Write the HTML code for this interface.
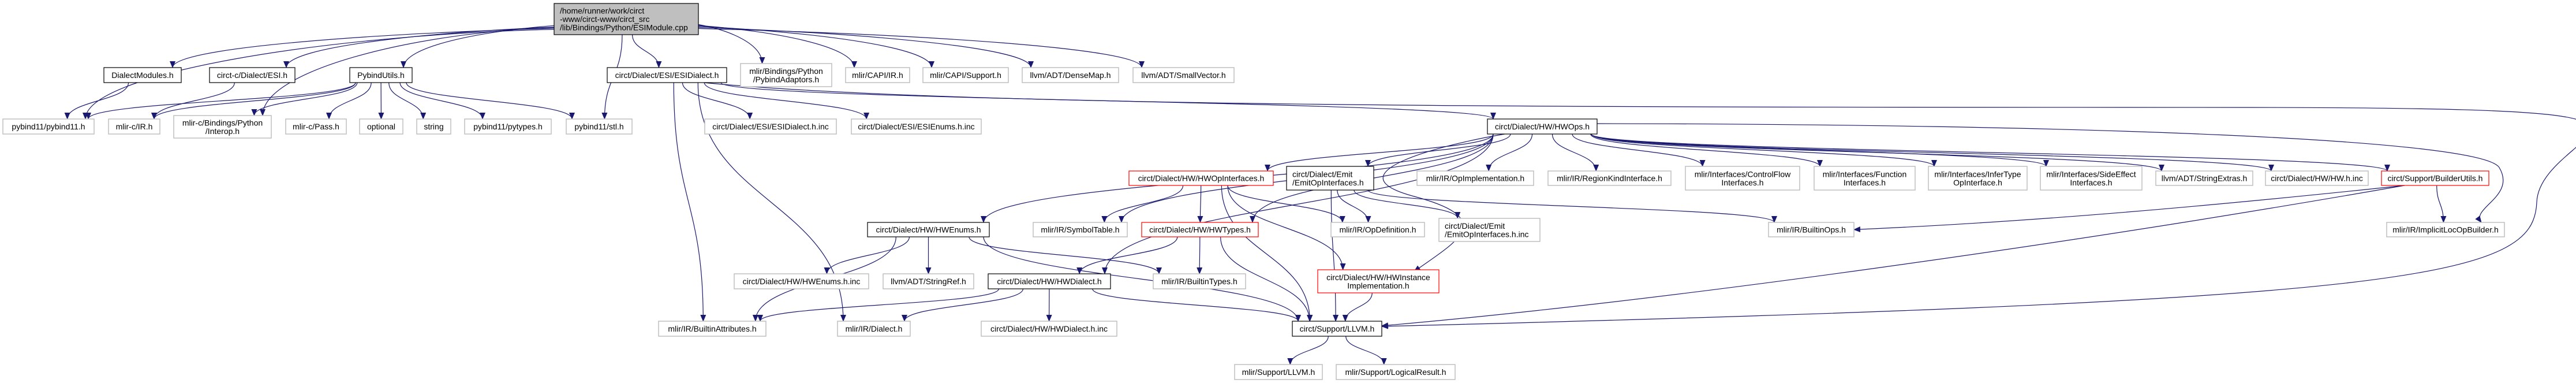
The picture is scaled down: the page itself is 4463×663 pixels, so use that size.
<!DOCTYPE html>
<html><head><meta charset="utf-8"><title>ESIModule.cpp include graph</title>
<style>
html,body{margin:0;padding:0;background:#fff;}
svg{display:block;}
text{font-family:"Liberation Sans","DejaVu Sans",sans-serif;font-size:14px;fill:#000;}
</style></head>
<body>
<svg id="g" width="4463" height="663" viewBox="0 0 4463 663" xmlns="http://www.w3.org/2000/svg">
<defs>
<marker id="ah" markerWidth="12" markerHeight="10" refX="11" refY="5" orient="auto" markerUnits="userSpaceOnUse">
<path d="M0,0 L12,5 L0,10 z" fill="#191970"/>
</marker>
</defs>
<g id="edges"></g>
<g id="nodes"></g>
</svg>
<script>
const nodeIds = ["main","dialmod","cesi","pyutils","esid","pyadapt","capiir","capisup","densemap","smallvec",
"pybind11","mlircir","interop","pass","optional","string","pytypes","stl","esidinc","esienuminc","hwops",
"hwopif","emitopif","opimpl","regionkind","ctrlflow","funcif","infertype","sideeffect","strextras","hwinc","builderutils",
"hwenums","symtab","hwtypes","opdef","emitinc","builtinops","implicitloc",
"hwenumsinc","stringref","hwdialect","builtintypes","hwinst",
"builtinattrs","dialect","hwdialectinc","llvm",
"mlirllvm","logicalresult"];
const nodeLabels = [
["/home/runner/work/circt","-www/circt-www/circt_src","/lib/Bindings/Python/ESIModule.cpp"],
["DialectModules.h"],["circt-c/Dialect/ESI.h"],["PybindUtils.h"],["circt/Dialect/ESI/ESIDialect.h"],
["mlir/Bindings/Python","/PybindAdaptors.h"],["mlir/CAPI/IR.h"],["mlir/CAPI/Support.h"],["llvm/ADT/DenseMap.h"],["llvm/ADT/SmallVector.h"],
["pybind11/pybind11.h"],["mlir-c/IR.h"],["mlir-c/Bindings/Python","/Interop.h"],["mlir-c/Pass.h"],["optional"],["string"],["pybind11/pytypes.h"],["pybind11/stl.h"],
["circt/Dialect/ESI/ESIDialect.h.inc"],["circt/Dialect/ESI/ESIEnums.h.inc"],["circt/Dialect/HW/HWOps.h"],
["circt/Dialect/HW/HWOpInterfaces.h"],["circt/Dialect/Emit","/EmitOpInterfaces.h"],["mlir/IR/OpImplementation.h"],["mlir/IR/RegionKindInterface.h"],
["mlir/Interfaces/ControlFlow","Interfaces.h"],["mlir/Interfaces/Function","Interfaces.h"],["mlir/Interfaces/InferType","OpInterface.h"],
["mlir/Interfaces/SideEffect","Interfaces.h"],["llvm/ADT/StringExtras.h"],["circt/Dialect/HW/HW.h.inc"],["circt/Support/BuilderUtils.h"],
["circt/Dialect/HW/HWEnums.h"],["mlir/IR/SymbolTable.h"],["circt/Dialect/HW/HWTypes.h"],["mlir/IR/OpDefinition.h"],
["circt/Dialect/Emit","/EmitOpInterfaces.h.inc"],["mlir/IR/BuiltinOps.h"],["mlir/IR/ImplicitLocOpBuilder.h"],
["circt/Dialect/HW/HWEnums.h.inc"],["llvm/ADT/StringRef.h"],["circt/Dialect/HW/HWDialect.h"],["mlir/IR/BuiltinTypes.h"],
["circt/Dialect/HW/HWInstance","Implementation.h"],
["mlir/IR/BuiltinAttributes.h"],["mlir/IR/Dialect.h"],["circt/Dialect/HW/HWDialect.h.inc"],["circt/Support/LLVM.h"],
["mlir/Support/LLVM.h"],["mlir/Support/LogicalResult.h"]
];
const nodeBoxes = [
[960,6,1210,60],
[180,117,314,143],[363,117,511,143],[606,117,714,143],[1052,117,1259,143],
[1283,110,1441,150],[1465,117,1576,143],[1599,117,1747,143],[1771,117,1938,143],[1963,117,2138,143],
[5,206,163,232],[188,206,277,232],[301,200,470,239],[495,206,600,232],[623,206,698,232],[722,206,781,232],[805,206,955,232],[981,206,1095,232],
[1221,206,1449,232],[1475,206,1700,232],[2577,206,2767,232],
[1956,296,2206,321],[2229,288,2380,329],[2455,296,2657,321],[2682,296,2895,321],
[2920,288,3118,329],[3143,288,3318,329],[3341,288,3512,329],[3535,288,3711,329],[3735,296,3903,321],[3925,296,4103,321],[4126,296,4312,321],
[1503,385,1714,410],[1790,385,1953,410],[1978,385,2180,410],[2306,385,2468,410],[2493,378,2668,418],[3064,385,3212,410],[4135,385,4339,410],
[1272,474,1505,500],[1530,474,1687,500],[1712,474,1924,500],[1998,474,2158,500],[2283,467,2493,507],
[1141,556,1327,582],[1451,556,1577,582],[1700,556,1935,582],[2239,556,2394,582],
[2139,631,2291,657],[2315,631,2521,657]
];
const nodeStyles = ["main","black","black","black","black","gray","gray","gray","gray","gray",
"gray","gray","gray","gray","gray","gray","gray","gray","gray","gray","black",
"red","black","gray","gray","gray","gray","gray","gray","gray","gray","red",
"black","gray","red","gray","gray","gray","gray",
"gray","gray","black","gray","red",
"gray","gray","gray","black","gray","gray"];
const leftAligned = ["main","emitopif","emitinc"];

const edgeFrom = ["main","main","main","main","main","main","main","main","main","main","main","main",
"dialmod","cesi",
"pyutils","pyutils","pyutils","pyutils","pyutils","pyutils","pyutils","pyutils",
"esid","esid","esid","esid","esid","esid",
"hwops","hwops","hwops","hwops","hwops","hwops","hwops","hwops","hwops","hwops","hwops","hwops","hwops","hwops","hwops","hwops","hwops",
"hwenums","hwenums","hwenums","hwenums","hwenums",
"hwopif","hwopif","hwopif","hwopif","hwopif",
"hwtypes","hwtypes","hwtypes",
"hwdialect","hwdialect","hwdialect","hwdialect",
"emitopif","emitopif","emitopif","emitopif",
"hwinst","llvm","llvm",
"builderutils","builderutils","builderutils"];
const edgeTo = ["pybind11","dialmod","cesi","interop","pyutils","stl","esid","pyadapt","capiir","capisup","densemap","smallvec",
"pybind11","mlircir",
"pybind11","mlircir","interop","pass","optional","string","pytypes","stl",
"esidinc","esienuminc","hwops","builtinattrs","dialect","llvm",
"hwenums","symtab","hwopif","hwtypes","hwdialect","emitopif","llvm","opimpl","regionkind","ctrlflow","funcif","infertype","sideeffect","strextras","hwinc","builderutils","implicitloc",
"builtinattrs","hwenumsinc","stringref","builtintypes","llvm",
"symtab","hwtypes","opdef","hwinst","llvm",
"hwdialect","builtintypes","llvm",
"builtinattrs","dialect","hwdialectinc","llvm",
"opdef","emitinc","builtinops","llvm",
"llvm","mlirllvm","logicalresult",
"builtinops","llvm","implicitloc"];

const NS = "http://www.w3.org/2000/svg";
const gE = document.getElementById("edges");
const gN = document.getElementById("nodes");
function box(id){ return nodeBoxes[nodeIds.indexOf(id)]; }

for (let i = 0; i < edgeFrom.length; i++) {
  const a = box(edgeFrom[i]), b = box(edgeTo[i]);
  let d;
  const acx = (a[0]+a[2])/2, bcx = (b[0]+b[2])/2;
  const f = edgeFrom[i], t = edgeTo[i];
  if (f === "esid" && t === "llvm") {
    d = `M${a[2]-40},${a[3]} C1700,190 3000,185 3900,186 S4400,220 4395,350 S4200,520 2394,565`;
  } else if (f === "builderutils" && t === "builtinops") {
    d = `M${a[0]+40},${a[3]} C3800,360 3500,385 ${b[2]},${(b[1]+b[3])/2}`;
  } else if (f === "builderutils" && t === "llvm") {
    d = `M${a[0]+40},${a[3]} C3600,420 2900,520 ${b[2]},${b[1]+8}`;
  } else if (f === "hwops" && t === "implicitloc") {
    d = `M${a[2]},${a[1]+8} C3600,215 4300,240 4330,290 S4280,360 ${b[2]-40},${b[1]}`;
  } else if (f === "hwops" && t === "llvm") {
    d = `M${a[0]+30},${a[3]} C2500,250 2300,300 2450,340 S2520,420 2450,470 S${b[2]},${b[1]}`;
  } else if (f === "main" && (bcx < a[0] || bcx > a[2])) {
    const left = bcx < a[0];
    const sx = left ? a[0] : a[2];
    const sy = a[1] + 35 + (left ? (a[0]-bcx)/900*10 : (bcx-a[2])/1000*10);
    const tx = Math.max(b[0]+15, Math.min(b[2]-15, bcx + (acx-bcx)*0.15));
    const ty = b[1];
    d = `M${sx},${sy} C${(sx+tx)/2},${sy+10} ${tx},${(sy+ty)/2} ${tx},${ty}`;
  } else {
    const sx = Math.max(a[0]+10, Math.min(a[2]-10, acx + (bcx-acx)*0.15));
    const sy = a[3];
    const tx = Math.max(b[0]+10, Math.min(b[2]-10, bcx + (acx-bcx)*0.2));
    const ty = b[1];
    const my = (sy+ty)/2;
    d = `M${sx},${sy} C${sx},${my} ${tx},${my} ${tx},${ty}`;
  }
  const p = document.createElementNS(NS, "path");
  p.setAttribute("d", d);
  p.setAttribute("fill", "none");
  p.setAttribute("stroke", "#191970");
  p.setAttribute("stroke-width", "1.2");
  p.setAttribute("marker-end", "url(#ah)");
  
  
  gE.appendChild(p);
}

for (let i = 0; i < nodeIds.length; i++) {
  const [x1,y1,x2,y2] = nodeBoxes[i];
  const st = nodeStyles[i];
  const g = document.createElementNS(NS, "g");
  
  
  const r = document.createElementNS(NS, "rect");
  r.setAttribute("x", x1); r.setAttribute("y", y1);
  r.setAttribute("width", x2-x1); r.setAttribute("height", y2-y1);
  r.setAttribute("fill", st === "main" ? "#bfbfbf" : "#ffffff");
  r.setAttribute("stroke", st === "red" ? "#ff0000" : (st === "gray" ? "#bfbfbf" : "#000000"));
  r.setAttribute("stroke-width", st === "gray" ? "1.5" : "1.2");
  g.appendChild(r);
  const lines = nodeLabels[i];
  const lh = 14.5;
  const cy = (y1+y2)/2;
  const left = leftAligned.includes(nodeIds[i]);
  lines.forEach((ln, k) => {
    const t = document.createElementNS(NS, "text");
    const y = cy + (k - (lines.length-1)/2)*lh + 5;
    t.setAttribute("x", left ? x1+10 : (x1+x2)/2);
    t.setAttribute("y", y);
    t.setAttribute("text-anchor", left ? "start" : "middle");
    
    
    t.textContent = ln;
    g.appendChild(t);
  });
  gN.appendChild(g);
}
</script>
</body></html>
